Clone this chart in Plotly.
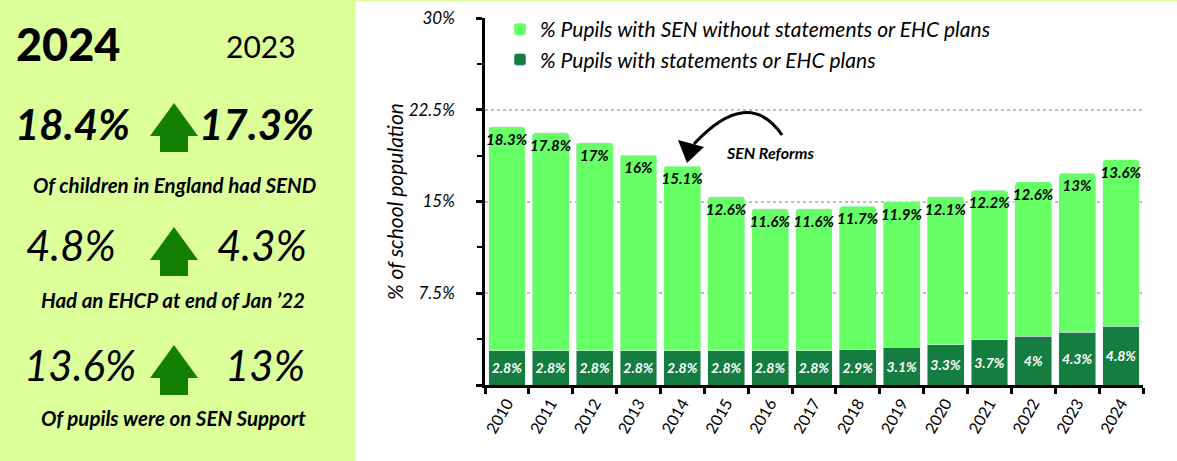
import plotly.graph_objects as go

W, H = 1177, 461

years = [str(y) for y in range(2010, 2025)]
ehcp = [2.8, 2.8, 2.8, 2.8, 2.8, 2.8, 2.8, 2.8, 2.9, 3.1, 3.3, 3.7, 4.0, 4.3, 4.8]
sen_support = [18.3, 17.8, 17.0, 16.0, 15.1, 12.6, 11.6, 11.6, 11.7, 11.9, 12.1, 12.2, 12.6, 13.0, 13.6]
y_tickvals = [0, 7.5, 15, 22.5, 30]
y_ticktext = ["", "7.5%", "15%", "22.5%", "30%"]

series_names = ["% Pupils with statements or EHC plans",
                "% Pupils with SEN without statements or EHC plans"]

DARK = "#157d40"
LIGHT = "#66ff66"
PANEL = "#ddff99"
ARROW = "#137f05"
FONT = "Lato"


def px(x):
    return x / W


def py(y):
    return 1 - y / H


fig = go.Figure()
fig.add_trace(go.Bar(
    x=years, y=ehcp, name=series_names[0], marker_color=DARK,
    texttemplate="%{y}%", textposition="inside", insidetextanchor="middle", textangle=0,
    textfont=dict(family=FONT, size=14, color="white", style="italic", weight="bold"),
    constraintext="none", hoverinfo="skip"))
fig.add_trace(go.Bar(
    x=years, y=sen_support, name=series_names[1], marker_color=LIGHT,
    texttemplate="%{y}%", textposition="inside", insidetextanchor="end", textangle=0,
    textfont=dict(family=FONT, size=15, color="black", style="italic", weight="bold"),
    constraintext="none", hoverinfo="skip"))

shapes = []
# left panel
shapes.append(dict(type="rect", xref="paper", yref="paper", x0=0, x1=px(356), y0=0, y1=1,
                   fillcolor=PANEL, line_width=0, layer="below"))
shapes.append(dict(type="line", xref="paper", yref="paper", x0=px(356), x1=1, y0=py(0.5), y1=py(0.5),
                   line=dict(color=PANEL, width=2)))


def up_arrow(top, base, bottom, cx=174, hw=24, sw=14):
    pts = [(cx, top), (cx + hw, base), (cx + sw, base), (cx + sw, bottom),
           (cx - sw, bottom), (cx - sw, base), (cx - hw, base)]
    d = "M " + " L ".join(f"{px(a):.5f},{py(b):.5f}" for a, b in pts) + " Z"
    return dict(type="path", xref="paper", yref="paper", path=d,
                fillcolor=ARROW, line_width=0)


shapes.append(up_arrow(103, 136, 152))
shapes.append(up_arrow(227, 260, 276))
shapes.append(up_arrow(345, 378, 395))

# curved arrow for SEN Reforms
arc = f"M {px(782):.5f},{py(135):.5f} Q {px(748):.5f},{py(86):.5f} {px(694):.5f},{py(144):.5f}"
shapes.append(dict(type="path", xref="paper", yref="paper", path=arc,
                   line=dict(color="black", width=3)))
head = [(687, 163), (678, 140), (704, 147)]
shapes.append(dict(type="path", xref="paper", yref="paper",
                   path="M " + " L ".join(f"{px(a):.5f},{py(b):.5f}" for a, b in head) + " Z",
                   fillcolor="black", line_width=0))

annotations = []


def txt(text, x, y, size, weight="normal", italic=True, xanchor="center"):
    annotations.append(dict(
        text=text, x=px(x), y=py(y), xref="paper", yref="paper", showarrow=False,
        xanchor=xanchor, yanchor="middle",
        font=dict(family=FONT, size=size, color="black", weight=weight,
                  style="italic" if italic else "normal")))


txt("2024", 68, 44, 45, weight=900, italic=False)
txt("2023", 261, 46, 30, italic=False)
txt("18.4%", 72, 124, 42, weight="bold")
txt("17.3%", 256, 124, 42, weight="bold")
txt("Of children in England had SEND", 175, 185, 20.5, weight="bold")
txt("4.8%", 71, 245, 42)
txt("4.3%", 262, 245, 42)
txt("Had an EHCP at end of Jan \u201922", 173, 300, 20.5, weight="bold")
txt("13.6%", 80, 365, 42)
txt("13%", 265, 365, 42)
txt("Of pupils were on SEN Support", 173, 418, 20.5, weight="bold")
txt("SEN Reforms", 770, 152, 16, weight="bold")

fig.update_layout(
    width=W, height=H,
    margin=dict(l=0, r=0, t=0, b=0, autoexpand=False),
    paper_bgcolor="white", plot_bgcolor="white",
    barmode="stack", bargap=0.16, barcornerradius=3,
    font=dict(family=FONT, color="black"),
    showlegend=True,
    legend=dict(x=px(500), y=py(9), xanchor="left", yanchor="top",
                bgcolor="rgba(0,0,0,0)", traceorder="reversed",
                font=dict(family=FONT, size=21, style="italic"),
                tracegroupgap=0, itemwidth=30),
    shapes=shapes, annotations=annotations,
    xaxis=dict(domain=[px(485), px(1143)], type="category", automargin=False,
               showline=True, linecolor="black", linewidth=2.5,
               ticks="outside", ticklen=6, tickwidth=2.5, tickcolor="black",
               tickson="boundaries", tickangle=-60,
               tickfont=dict(family=FONT, size=16, color="black"),
               showgrid=False),
    yaxis=dict(domain=[py(385), py(18)], range=[0, 30], automargin=False,
               tickvals=y_tickvals, ticktext=y_ticktext,
               showline=True, linecolor="black", linewidth=2.5,
               ticks="outside", ticklen=6, tickwidth=2.5, tickcolor="black",
               ticklabelstandoff=18,
               tickfont=dict(family=FONT, size=17, style="italic", color="black"),
               minor=dict(dtick=3.75, ticks="outside", ticklen=5, tickwidth=2, tickcolor="black",
                          showgrid=False),
               showgrid=True, gridcolor="#bdbdbd", griddash="dot", gridwidth=2,
               zeroline=False,
               title=dict(text="% of school population", standoff=0,
                          font=dict(family=FONT, size=21, style="italic"))),
)

fig.write_html("out.html", config={"displayModeBar": False},
               post_script="document.body.style.margin='0';document.body.style.overflow='hidden';")
